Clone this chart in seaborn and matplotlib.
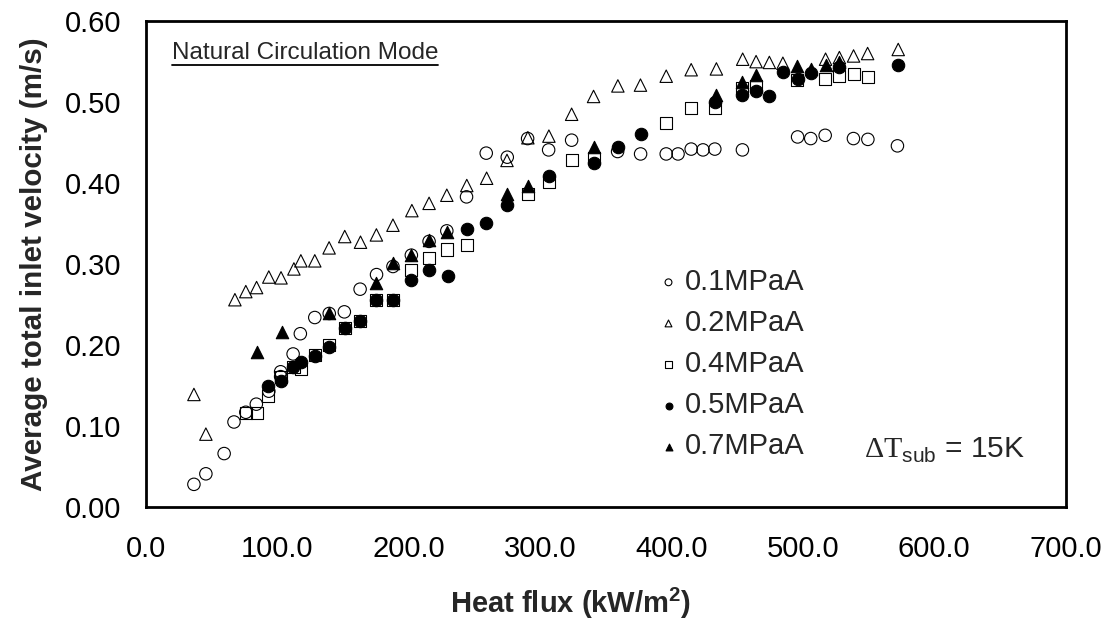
import numpy as np
import pandas as pd
import matplotlib
matplotlib.use("Agg")
import matplotlib.pyplot as plt
import seaborn as sns
from matplotlib.lines import Line2D

# ---------------- data ----------------
x_01 = [36.5, 45.6, 59.5, 67.0, 76.0, 84.0, 93.5, 102.5, 102.5, 112.0, 117.5, 128.5, 139.5, 151.0,
        163.0, 175.5, 188.0, 202.0, 215.5, 229.0, 244.0, 259.0, 275.0, 290.5, 306.5, 324.0,
        359.0, 376.5, 396.0, 405.0, 415.0, 424.0, 433.0, 454.0, 496.0, 506.0, 517.0, 538.5,
        549.5, 572.0]
y_01 = [0.028, 0.041, 0.066, 0.105, 0.117, 0.127, 0.143, 0.167, 0.161, 0.189, 0.214, 0.234, 0.239, 0.241,
        0.269, 0.287, 0.297, 0.311, 0.328, 0.341, 0.383, 0.437, 0.432, 0.455, 0.441, 0.453,
        0.439, 0.436, 0.436, 0.436, 0.442, 0.441, 0.442, 0.441, 0.457, 0.455, 0.459, 0.455,
        0.454, 0.446]

x_02 = [36.5, 45.6, 67.7, 76.0, 84.2, 93.5, 102.8, 112.6, 117.9, 128.5, 139.4, 151.3, 163.3, 175.4,
        188.0, 202.4, 215.5, 229.0, 244.2, 259.3, 274.8, 290.7, 306.7, 324.0, 340.7, 359.2,
        376.4, 396.0, 415.0, 434.2, 454.2, 464.4, 474.5, 484.8, 517.3, 527.8, 538.6, 549.3, 572.6]
y_02 = [0.139, 0.090, 0.256, 0.266, 0.271, 0.284, 0.283, 0.294, 0.304, 0.304, 0.320, 0.334, 0.327, 0.336,
        0.348, 0.366, 0.375, 0.385, 0.397, 0.406, 0.428, 0.456, 0.458, 0.485, 0.507, 0.520,
        0.521, 0.532, 0.540, 0.541, 0.553, 0.550, 0.549, 0.548, 0.553, 0.555, 0.557, 0.560, 0.565]

x_04 = [76.0, 84.2, 93.0, 102.7, 112.3, 117.9, 128.5, 139.4, 151.3, 162.7, 175.4, 188.0, 202.0,
        215.4, 229.5, 244.2, 290.5, 307.0, 324.0, 340.8, 395.7, 415.0, 433.5, 454.0, 464.4,
        495.6, 517.0, 527.8, 538.6, 549.4]
y_04 = [0.116, 0.116, 0.137, 0.161, 0.173, 0.170, 0.188, 0.200, 0.221, 0.230, 0.256, 0.256, 0.293,
        0.307, 0.318, 0.323, 0.386, 0.401, 0.428, 0.431, 0.474, 0.493, 0.493, 0.518, 0.520,
        0.527, 0.529, 0.532, 0.535, 0.531]

x_05 = [93.0, 102.5, 112.0, 117.9, 128.5, 139.4, 151.3, 162.7, 175.4, 188.0, 202.0, 215.4, 229.8,
        244.0, 259.0, 274.5, 307.0, 341.0, 359.0, 377.0, 433.0, 454.0, 464.4, 474.5, 485.0,
        496.0, 506.0, 527.8, 572.6]
y_05 = [0.149, 0.155, 0.173, 0.179, 0.186, 0.197, 0.221, 0.230, 0.256, 0.256, 0.280, 0.293, 0.285,
        0.343, 0.351, 0.373, 0.409, 0.425, 0.445, 0.461, 0.500, 0.509, 0.514, 0.508, 0.537,
        0.528, 0.536, 0.543, 0.546]

x_07 = [84.2, 103.2, 139.4, 175.4, 188.0, 202.0, 215.4, 229.5, 274.8, 290.7, 341.0, 434.0, 454.0,
        464.4, 495.8, 506.0, 517.3, 527.8]
y_07 = [0.192, 0.216, 0.239, 0.277, 0.301, 0.311, 0.330, 0.340, 0.386, 0.397, 0.444, 0.509, 0.525,
        0.533, 0.545, 0.541, 0.546, 0.550]

labels = ["0.1MPaA", "0.2MPaA", "0.4MPaA", "0.5MPaA", "0.7MPaA"]
x_ticks = [0, 100, 200, 300, 400, 500, 600, 700]
y_ticks = [0.0, 0.1, 0.2, 0.3, 0.4, 0.5, 0.6]

# ---------------- style ----------------
sns.set_theme(style="white")
plt.rcParams['font.family'] = ['Liberation Sans', 'DejaVu Sans']
plt.rcParams['mathtext.fontset'] = 'custom'
plt.rcParams['mathtext.rm'] = 'Liberation Serif'
plt.rcParams['mathtext.sf'] = 'Liberation Sans'
plt.rcParams['mathtext.bf'] = 'Liberation Sans:bold'

fig = plt.figure(figsize=(11.10, 6.31), dpi=100)
ax = fig.add_axes([0.1315, 0.1965, 0.8285, 0.770])

series = [(x_01, y_01), (x_02, y_02), (x_04, y_04), (x_05, y_05), (x_07, y_07)]
markers = ["o", "^", "s", "o", "^"]
faces = ["none", "none", "none", "black", "black"]
sizes = [80, 80, 75, 80, 80]

for (xs, ys), lab, m, fc, sz in zip(series, labels, markers, faces, sizes):
    df = pd.DataFrame({"x": xs, "y": ys})
    sns.scatterplot(data=df, x="x", y="y", marker=m, s=sz, facecolor=fc,
                    edgecolor="black", linewidth=0.8, label=lab, ax=ax, zorder=3)

ax.set_xlim(0, 700)
ax.set_ylim(0, 0.6)
ax.set_xticks(x_ticks)
ax.set_yticks(y_ticks)
ax.set_xticklabels([f"{v:.1f}" for v in x_ticks])
ax.set_yticklabels([f"{v:.2f}" for v in y_ticks])
ax.tick_params(axis="both", direction="in", length=7, width=1.6, labelsize=21,
               colors="black", top=False, right=False)
ax.tick_params(axis="x", pad=20)
ax.tick_params(axis="y", pad=18)
for sp in ax.spines.values():
    sp.set_visible(True)
    sp.set_color("black")
    sp.set_linewidth(2.0)

ax.set_xlabel(r"Heat flux (kW/m$^{\mathbf{2}}$)", fontsize=21, fontweight="bold")
ax.xaxis.set_label_coords(0.462, -0.163)
ax.set_ylabel("Average total inlet velocity (m/s)", fontsize=21.3, fontweight="bold", labelpad=12)

leg = ax.legend(loc="upper left", bbox_to_anchor=(0.546, 0.516), frameon=False,
                fontsize=21, markerscale=0.55, handlelength=0.6, handletextpad=0.25,
                labelspacing=0.45, borderaxespad=0)

ax.text(0.781, 0.117, r"$\Delta\mathrm{T}_{\mathsf{sub}}$ = 15K", transform=ax.transAxes,
        fontsize=21.5, ha="left", va="center")

t = ax.text(0.028, 0.934, "Natural Circulation Mode", transform=ax.transAxes,
            fontsize=17.5, ha="left", va="center")
fig.canvas.draw()
bb = t.get_window_extent(renderer=fig.canvas.get_renderer())
inv = fig.transFigure.inverted()
(x0, y0), (x1, y1) = inv.transform([(bb.x0, bb.y0 - 1), (bb.x1, bb.y0 - 1)])
fig.add_artist(Line2D([x0, x1], [y0, y1], transform=fig.transFigure, color="black", lw=1.3))

fig.savefig("out.png", dpi=100)
